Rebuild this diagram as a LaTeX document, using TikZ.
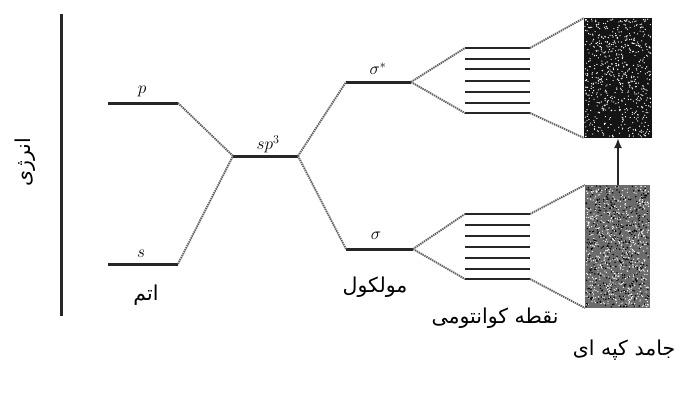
\documentclass[tikz,border=0pt]{standalone}
\usepackage{fontspec}
\usetikzlibrary{arrows.meta}
\TeXXeTstate=1
\newfontfamily\arabicfont[Script=Arabic]{DejaVu Sans}
\tikzset{
  level/.style={line width=3pt, black!85},
  bandline/.style={line width=2.2pt, black!85},
  link/.style={dash pattern=on 1.4pt off 0.8pt, line width=1.9pt, black!62},
  fa/.style={font=\arabicfont\fontsize{20.5}{24}\selectfont, inner sep=1pt},
  sym/.style={font=\fontsize{18}{20}\selectfont, inner sep=1pt},
}
\begin{document}
\begin{tikzpicture}[x=1pt,y=-1pt]
  \useasboundingbox (0,0) rectangle (689,394);
  \fill[white] (0,0) rectangle (689,394);

  % energy axis
  \draw[line width=3pt, black!85] (61,14) -- (61,316);
  \node[fa, rotate=90] (energy) at (25,162) {\beginR انرژی\endR};

  % atomic levels
  \coordinate (pL) at (108,103); \coordinate (pR) at (178,103);
  \coordinate (sL) at (108,264); \coordinate (sR) at (178,264);
  \draw[level] (pL) -- (pR);
  \draw[level] (sL) -- (sR);
  \node[sym] (plab) at (142,91) {$p$};
  \node[sym] (slab) at (141,254) {$s$};
  \node[fa] (atom) at (146,295) {\beginR اتم\endR};

  % hybrid level
  \coordinate (hL) at (233,156); \coordinate (hR) at (298,156);
  \draw[level] (hL) -- (hR);
  \node[sym] (hlab) at (268,144) {$sp^3$};

  % molecular levels
  \coordinate (aL) at (346,82); \coordinate (aR) at (411,82);
  \coordinate (bL) at (346,249); \coordinate (bR) at (413,249);
  \draw[level] (aL) -- (aR);
  \draw[level] (bL) -- (bR);
  \node[sym] (alab) at (378,69) {$\sigma^{*}$};
  \node[sym] (blab) at (376,236) {$\sigma$};
  \node[fa] (mol) at (375,287) {\beginR مولکول\endR};

  % quantum-dot bands
  \foreach \y [count=\k] in {48,59,69,81,92,103,113}
    \draw[bandline] (465,\y) coordinate (u\k L) -- (530,\y) coordinate (u\k R);
  \foreach \y [count=\k] in {214,225,236,247,258,269,279}
    \draw[bandline] (465,\y) coordinate (d\k L) -- (530,\y) coordinate (d\k R);
  \node[fa] (qd) at (495,318) {\beginR نقطه کوانتومی\endR};

  % bulk solid bands
  \pgfmathsetseed{11}
  \fill[black!92] (584,18) coordinate (cTL) rectangle (652,138) coordinate (cBR);
  \foreach \i in {1,...,650}{
    \pgfmathsetmacro\rx{585+66*rnd}\pgfmathsetmacro\ry{19+118*rnd}
    \fill[white] (\rx,\ry) circle (0.65);
  }
  \fill[black!58] (585,185) coordinate (vTL) rectangle (650,308) coordinate (vBR);
  \foreach \i in {1,...,750}{
    \pgfmathsetmacro\rx{586+63*rnd}\pgfmathsetmacro\ry{186+121*rnd}
    \fill[white] (\rx,\ry) circle (0.65);
  }
  \foreach \i in {1,...,450}{
    \pgfmathsetmacro\rx{586+63*rnd}\pgfmathsetmacro\ry{186+121*rnd}
    \fill[black] (\rx,\ry) circle (0.8);
  }
  \coordinate (cBL) at (584,138);
  \coordinate (vBL) at (585,308);
  \coordinate (vTop) at (618,185);
  \coordinate (cBot) at (618,138);
  \draw[line width=2.2pt, black!85, -{Latex[length=10pt,width=8pt]}] (vTop) -- (cBot);
  \node[fa] (bulk) at (624,350) {\beginR جامد کپه ای\endR};

  % correlation lines
  \draw[link] (pR) -- (hL);
  \draw[link] (sR) -- (hL);
  \draw[link] (hR) -- (aL);
  \draw[link] (hR) -- (bL);
  \draw[link] (aR) -- (u1L);
  \draw[link] (aR) -- (u7L);
  \draw[link] (bR) -- (d1L);
  \draw[link] (bR) -- (d7L);
  \draw[link] (u1R) -- (cTL);
  \draw[link] (u7R) -- (cBL);
  \draw[link] (d1R) -- (vTL);
  \draw[link] (d7R) -- (vBL);
\end{tikzpicture}
\end{document}
